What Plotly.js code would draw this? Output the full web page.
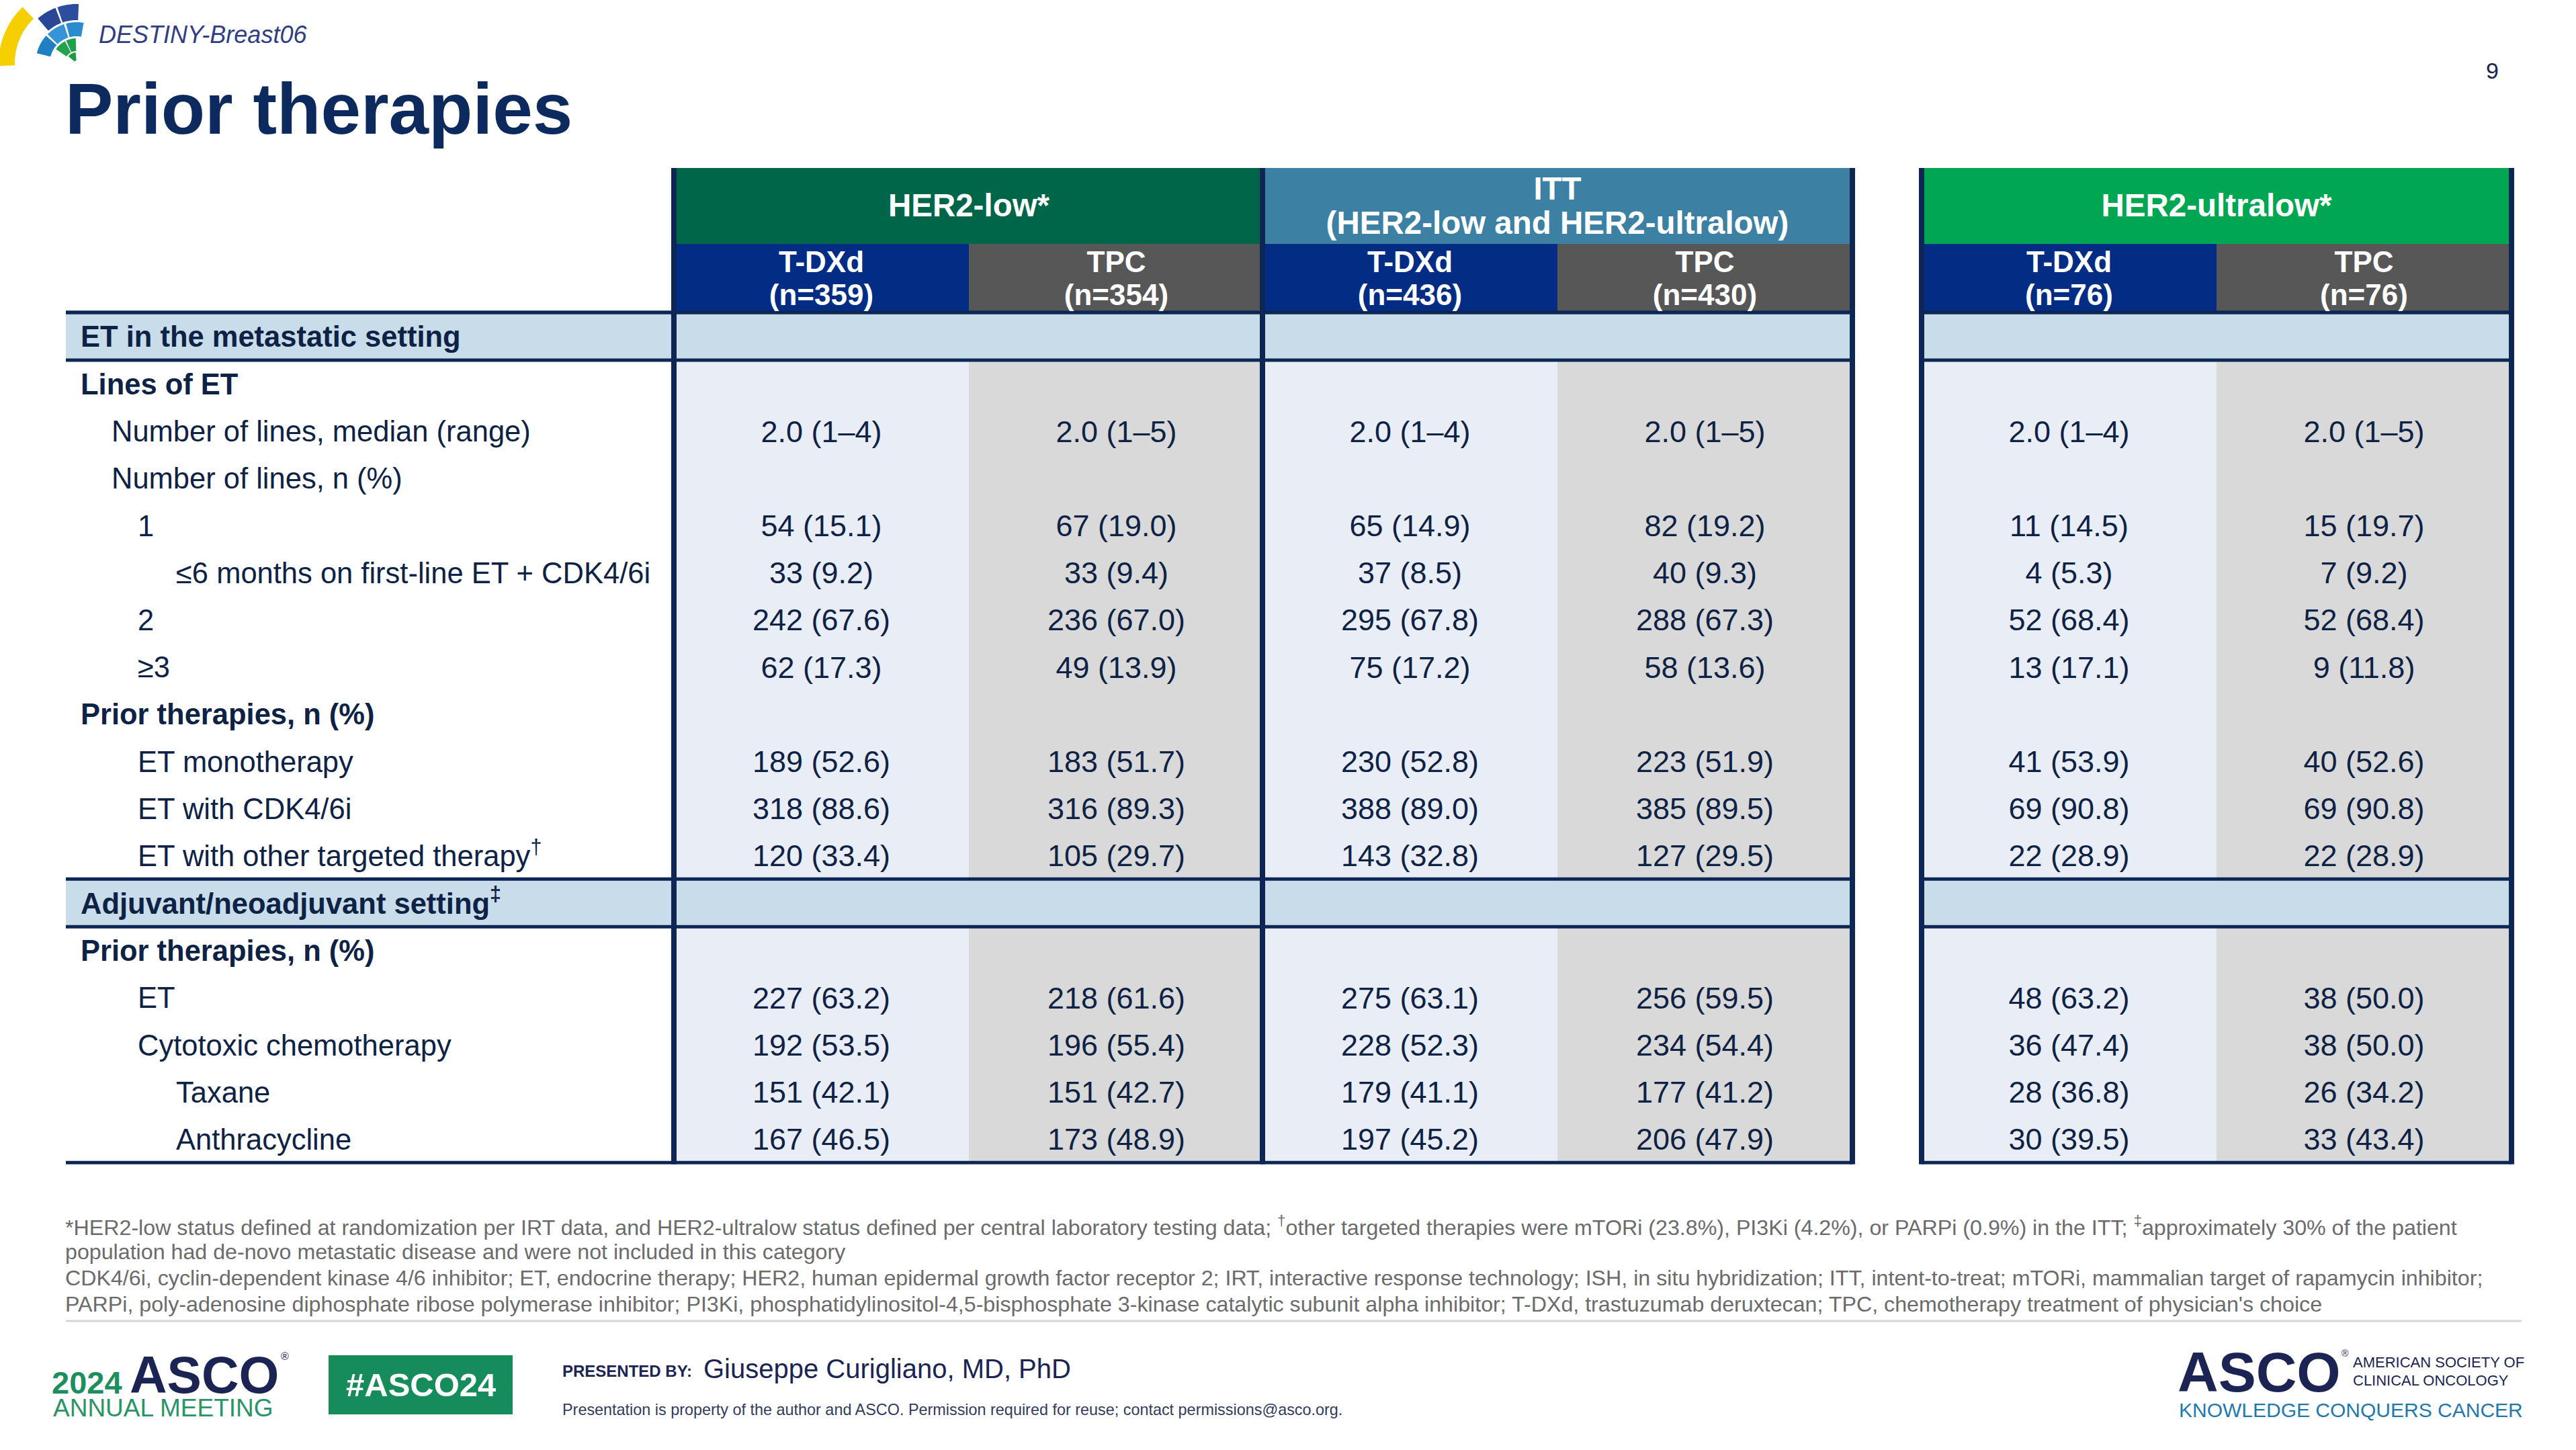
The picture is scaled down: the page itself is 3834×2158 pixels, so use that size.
<!DOCTYPE html>
<html><head><meta charset="utf-8">
<script src="https://cdn.plot.ly/plotly-3.0.1.min.js"></script>
<style>html,body{margin:0;padding:0;background:#fff;overflow:hidden}</style>
</head><body><div id="chart" style="width:3834px;height:2158px"></div>
<script>
// ---------------- DATA ----------------
const groupNames = ["HER2-low*", "ITT<br>(HER2-low and HER2-ultralow)", "HER2-ultralow*"];
const armNames = ["T-DXd", "TPC", "T-DXd", "TPC", "T-DXd", "TPC"];
const armN = [359, 354, 436, 430, 76, 76];
const sectionNames = ["ET in the metastatic setting", "Adjuvant/neoadjuvant setting<sup>‡</sup>"];
const rowSection = [0,0,0,0,0,0,0,0,0,0,0, 1,1,1,1,1];
const rowLabels = [
  "Lines of ET",
  "Number of lines, median (range)",
  "Number of lines, n (%)",
  "1",
  "≤6 months on first-line ET + CDK4/6i",
  "2",
  "≥3",
  "Prior therapies, n (%)",
  "ET monotherapy",
  "ET with CDK4/6i",
  "ET with other targeted therapy<sup>†</sup>",
  "Prior therapies, n (%)",
  "ET",
  "Cytotoxic chemotherapy",
  "Taxane",
  "Anthracycline"
];
const rowLevel = [0,1,1,2,3,2,2,0,2,2,2, 0,2,2,3,3];
const her2lowTDXd = ["", "2.0 (1–4)", "", "54 (15.1)", "33 (9.2)", "242 (67.6)", "62 (17.3)", "", "189 (52.6)", "318 (88.6)", "120 (33.4)", "", "227 (63.2)", "192 (53.5)", "151 (42.1)", "167 (46.5)"];
const her2lowTPC  = ["", "2.0 (1–5)", "", "67 (19.0)", "33 (9.4)", "236 (67.0)", "49 (13.9)", "", "183 (51.7)", "316 (89.3)", "105 (29.7)", "", "218 (61.6)", "196 (55.4)", "151 (42.7)", "173 (48.9)"];
const ittTDXd     = ["", "2.0 (1–4)", "", "65 (14.9)", "37 (8.5)", "295 (67.8)", "75 (17.2)", "", "230 (52.8)", "388 (89.0)", "143 (32.8)", "", "275 (63.1)", "228 (52.3)", "179 (41.1)", "197 (45.2)"];
const ittTPC      = ["", "2.0 (1–5)", "", "82 (19.2)", "40 (9.3)", "288 (67.3)", "58 (13.6)", "", "223 (51.9)", "385 (89.5)", "127 (29.5)", "", "256 (59.5)", "234 (54.4)", "177 (41.2)", "206 (47.9)"];
const ultralowTDXd= ["", "2.0 (1–4)", "", "11 (14.5)", "4 (5.3)", "52 (68.4)", "13 (17.1)", "", "41 (53.9)", "69 (90.8)", "22 (28.9)", "", "48 (63.2)", "36 (47.4)", "28 (36.8)", "30 (39.5)"];
const ultralowTPC = ["", "2.0 (1–5)", "", "15 (19.7)", "7 (9.2)", "52 (68.4)", "9 (11.8)", "", "40 (52.6)", "69 (90.8)", "22 (28.9)", "", "38 (50.0)", "38 (50.0)", "26 (34.2)", "33 (43.4)"];
const columns = [her2lowTDXd, her2lowTPC, ittTDXd, ittTPC, ultralowTDXd, ultralowTPC];

const footnotes = [
  "*HER2-low status defined at randomization per IRT data, and HER2-ultralow status defined per central laboratory testing data; <sup>†</sup>other targeted therapies were mTORi (23.8%), PI3Ki (4.2%), or PARPi (0.9%) in the ITT; <sup>‡</sup>approximately 30% of the patient",
  "population had de-novo metastatic disease and were not included in this category",
  "CDK4/6i, cyclin-dependent kinase 4/6 inhibitor; ET, endocrine therapy; HER2, human epidermal growth factor receptor 2; IRT, interactive response technology; ISH, in situ hybridization; ITT, intent-to-treat; mTORi, mammalian target of rapamycin inhibitor;",
  "PARPi, poly-adenosine diphosphate ribose polymerase inhibitor; PI3Ki, phosphatidylinositol-4,5-bisphosphate 3-kinase catalytic subunit alpha inhibitor; T-DXd, trastuzumab deruxtecan; TPC, chemotherapy treatment of physician's choice"
];

// ---------------- LAYOUT GEOMETRY / STYLE ----------------
const W = 3834, H = 2158;
const FONT = "Liberation Sans, Arial, Helvetica, sans-serif";
const NAVY = "#0d2654";
const TXT = "#0e2245";
const G = {tableL: 98, labelR: 1003, groupL: [1003, 1879, 2860], colW: 439,
           headTop: 250, groupH: 113, subH: 102, secH: 71, rowH: 70.2, textDy: 5};
const groupColors = ["#00664a", "#3c80a4", "#00a651"];
const armHeadColors = ["#032c84", "#575757"];
const armCellColors = ["#e9edf5", "#d9d9d9"];
const SECTION_FILL = "#c8dcea";
const indentX = [120, 166, 205, 262];

const colL = c => G.groupL[Math.floor(c/2)] + (c % 2) * G.colW;
const colC = c => colL(c) + G.colW / 2;
const groupR = g => G.groupL[g] + 2 * G.colW;

// row positions
const headBottom = G.headTop + G.groupH + G.subH;
let yc = headBottom;
const secTop = [], secEnd = [], rowY = [];
for (let s = 0; s < sectionNames.length; s++) {
  secTop[s] = yc; yc += G.secH;
  rowSection.forEach((rs, i) => { if (rs === s) { rowY[i] = yc + G.rowH / 2; yc += G.rowH; } });
  secEnd[s] = yc;
}
const tableBottom = yc;

const shapes = [];
const rect = (x0, y0, x1, y1, fill) => shapes.push({type: "rect", xref: "x", yref: "y", x0, y0, x1, y1, fillcolor: fill, line: {width: 0}, layer: "below"});
const seg = (x0, y0, x1, y1, color, width) => shapes.push({type: "line", xref: "x", yref: "y", x0, y0, x1, y1, line: {color, width}, layer: "below"});

// headers
groupNames.forEach((g, gi) => rect(G.groupL[gi], G.headTop, groupR(gi), G.headTop + G.groupH, groupColors[gi]));
armNames.forEach((a, c) => rect(colL(c), G.headTop + G.groupH, colL(c) + G.colW, headBottom, armHeadColors[c % 2]));
// sections and data backgrounds
for (let s = 0; s < sectionNames.length; s++) {
  rect(G.tableL, secTop[s], G.labelR, secTop[s] + G.secH, SECTION_FILL);
  groupNames.forEach((g, gi) => rect(G.groupL[gi], secTop[s], groupR(gi), secTop[s] + G.secH, SECTION_FILL));
  armNames.forEach((a, c) => rect(colL(c), secTop[s] + G.secH, colL(c) + G.colW, secEnd[s], armCellColors[c % 2]));
}
// horizontal rules
const hLines = [headBottom, ...secTop, ...secTop.map(t => t + G.secH), tableBottom];
hLines.forEach(y => {
  seg(G.tableL, y, groupR(1), y, NAVY, 5);
  seg(G.groupL[2], y, groupR(2), y, NAVY, 5);
});
// vertical borders
const vLines = [G.groupL[0], G.groupL[1], groupR(1), G.groupL[2], groupR(2)];
vLines.forEach(x => seg(x, G.headTop, x, tableBottom + 2.5, NAVY, 8));
// footer separator
seg(98, 1966, 3753, 1966, "#d6d6d6", 3);

// logo (fan of tiles)
function sector(cx, cy, r0, r1, a0, a1, fill) {
  const pts = [], n = 16;
  for (let k = 0; k <= n; k++) { const a = (a0 + (a1 - a0) * k / n) * Math.PI / 180; pts.push([cx + r1 * Math.cos(a), cy - r1 * Math.sin(a)]); }
  for (let k = n; k >= 0; k--) { const a = (a0 + (a1 - a0) * k / n) * Math.PI / 180; pts.push([cx + r0 * Math.cos(a), cy - r0 * Math.sin(a)]); }
  const path = "M" + pts.map(p => p[0].toFixed(1) + "," + p[1].toFixed(1)).join("L") + "Z";
  shapes.push({type: "path", xref: "x", yref: "y", path, fillcolor: fill, line: {width: 0}, layer: "above"});
}
const LC = [114, 94];
sector(LC[0], LC[1], 92, 116, 134, 182, "#f5cf00");
sector(LC[0], LC[1], 64, 88, 111, 131, "#2a4797");
sector(LC[0], LC[1], 64, 88, 88, 109, "#2d4e9f");
sector(LC[0], LC[1], 40, 61, 138, 166, "#1f7fc2");
sector(LC[0], LC[1], 40, 61, 108, 135, "#3594d6");
sector(LC[0], LC[1], 40, 61, 80, 105, "#2b8bd0");
sector(LC[0], LC[1], 18, 37, 118, 146, "#22a24c");
sector(LC[0], LC[1], 18, 37, 92, 115, "#1f9f4a");
sector(LC[0], LC[1], 4, 16, 95, 140, "#1c9a47");

// ---------------- TRACES ----------------
const traces = [];
// data values (blank cells skipped)
columns.forEach((vals, c) => {
  const idx = vals.map((v, i) => i).filter(i => vals[i] !== "");
  traces.push({
    type: "scatter", mode: "text", x: idx.map(() => colC(c)), y: idx.map(i => rowY[i] + G.textDy), text: idx.map(i => vals[i]),
    textposition: "middle center", textfont: {family: FONT, size: 45, color: TXT},
    hoverinfo: "skip", showlegend: false, cliponaxis: false
  });
});
// row labels
traces.push({
  type: "scatter", mode: "text", x: rowLevel.map(l => indentX[l]), y: rowY.map(y => y + G.textDy),
  text: rowLabels.map((t, i) => rowLevel[i] === 0 ? "<b>" + t + "</b>" : t),
  textposition: "middle right", textfont: {family: FONT, size: 43.5, color: TXT},
  hoverinfo: "skip", showlegend: false, cliponaxis: false
});
// section labels
traces.push({
  type: "scatter", mode: "text", x: sectionNames.map(() => indentX[0]), y: secTop.map(t => t + G.secH / 2 + G.textDy),
  text: sectionNames.map(t => "<b>" + t + "</b>"),
  textposition: "middle right", textfont: {family: FONT, size: 43.5, color: TXT},
  hoverinfo: "skip", showlegend: false, cliponaxis: false
});
// group headers (split lines)
const ghX = [], ghY = [], ghT = [];
groupNames.forEach((g, gi) => {
  const lines = g.split("<br>");
  lines.forEach((ln, k) => { ghX.push(G.groupL[gi] + G.colW); ghY.push(G.headTop + G.groupH / 2 + 4 + (k - (lines.length - 1) / 2) * 51); ghT.push("<b>" + ln + "</b>"); });
});
traces.push({type: "scatter", mode: "text", x: ghX, y: ghY, text: ghT, textposition: "middle center",
  textfont: {family: FONT, size: 47.5, color: "#ffffff"}, hoverinfo: "skip", showlegend: false, cliponaxis: false});
// arm headers
const ahX = [], ahY = [], ahT = [];
armNames.forEach((a, c) => {
  const mid = G.headTop + G.groupH + G.subH / 2;
  ahX.push(colC(c)); ahY.push(mid - 20); ahT.push("<b>" + a + "</b>");
  ahX.push(colC(c)); ahY.push(mid + 29); ahT.push("<b>(n=" + armN[c] + ")</b>");
});
traces.push({type: "scatter", mode: "text", x: ahX, y: ahY, text: ahT, textposition: "middle center",
  textfont: {family: FONT, size: 44, color: "#ffffff"}, hoverinfo: "skip", showlegend: false, cliponaxis: false});

// ---------------- ANNOTATIONS ----------------
const ann = (text, x, y, size, color, o = {}) => ({
  text, x, y, xref: "x", yref: "y", showarrow: false, xanchor: o.xanchor || "left", yanchor: o.yanchor || "middle",
  borderpad: 0, font: {family: o.family || FONT, size, color, weight: o.weight || "normal", style: o.style || "normal"}
});
const annotations = [
  ann("DESTINY-Breast06", 146, 51, 36, "#2f3d85", {style: "italic"}),
  ann("<b>Prior therapies</b>", 96, 162, 107, "#0c2a5e"),
  ann("9", 3709, 105, 34, "#1b2452", {xanchor: "center"}),
  // footer
  ann("<b>2024</b>", 76, 2057, 47, "#1d8f5f"),
  ann("<b>ASCO</b>", 192, 2046, 77, "#1b2452"),
  ann("®", 417, 2018, 16, "#1b2452"),
  ann("ANNUAL MEETING", 78, 2095, 37, "#2a9468"),
  ann("<b>#ASCO24</b>", 626, 2061, 49, "#ffffff", {xanchor: "center"}),
  ann("<b>PRESENTED BY:</b>", 836, 2040, 24, "#1b2452"),
  ann("Giuseppe Curigliano, MD, PhD", 1046, 2037, 40, "#1b2452"),
  ann("Presentation is property of the author and ASCO. Permission required for reuse; contact permissions@asco.org.", 836, 2098, 23.4, "#333a5c"),
  ann("<b>ASCO</b>", 3240, 2042, 84, "#1b2452"),
  ann("®", 3484, 2014, 14, "#1b2452"),
  ann("AMERICAN SOCIETY OF", 3501, 2027, 22, "#1b2452"),
  ann("CLINICAL ONCOLOGY", 3501, 2054, 22, "#1b2452"),
  ann("KNOWLEDGE CONQUERS CANCER", 3242, 2098, 30, "#1f79ad")
];
footnotes.forEach((t, k) => annotations.push(ann(t, 96, 1824 + k * 39, 32.2, "#6b6b6b")));
// green hashtag box
shapes.push({type: "rect", xref: "x", yref: "y", x0: 489, x1: 763, y0: 2017, y1: 2105, fillcolor: "#178c5b", line: {width: 0}, layer: "below"});

const layout = {
  width: W, height: H, margin: {l: 0, r: 0, t: 0, b: 0, pad: 0},
  paper_bgcolor: "#ffffff", plot_bgcolor: "#ffffff",
  xaxis: {range: [0, W], visible: false, fixedrange: true, showgrid: false, zeroline: false},
  yaxis: {range: [H, 0], visible: false, fixedrange: true, showgrid: false, zeroline: false},
  shapes, annotations, hovermode: false, showlegend: false
};
Plotly.newPlot("chart", traces, layout, {displayModeBar: false, staticPlot: true});
</script></body></html>
